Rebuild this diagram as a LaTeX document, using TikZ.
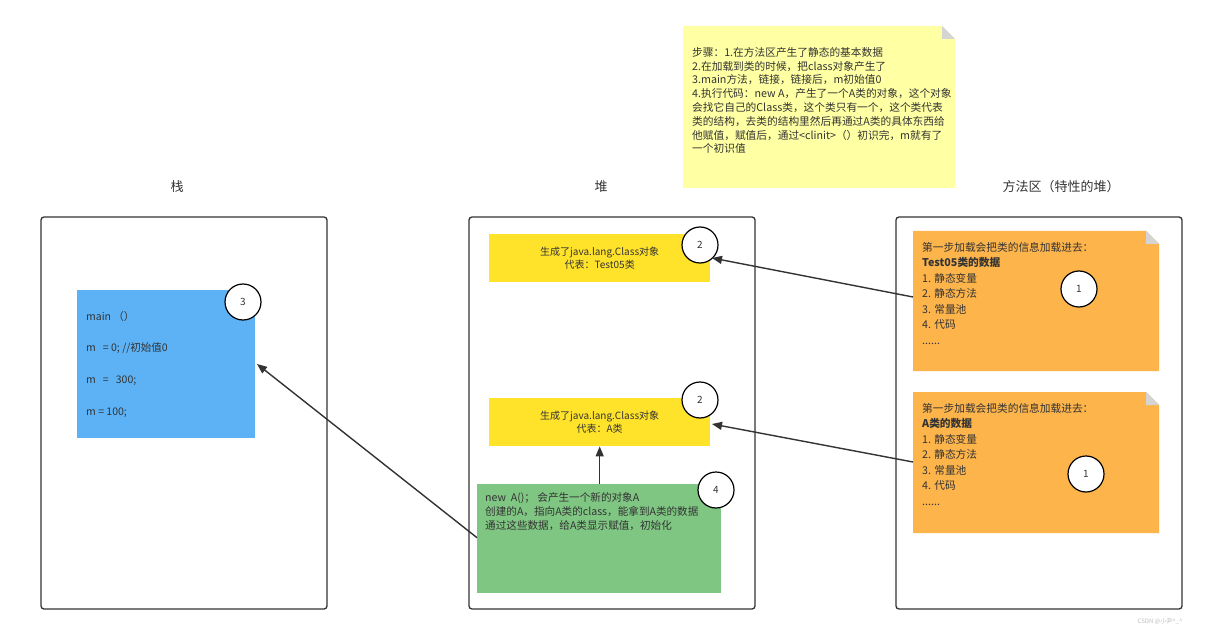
\documentclass[tikz,border=0pt]{standalone}
\usepackage{fontspec}
\setmainfont{Noto Sans CJK SC}
\usetikzlibrary{arrows.meta}
\definecolor{notey}{HTML}{FFFFA3}
\definecolor{noteo}{HTML}{FDB44B}
\definecolor{clsy}{HTML}{FFE32B}
\definecolor{grn}{HTML}{80C683}
\definecolor{blu}{HTML}{5CB2F5}
\definecolor{txt}{HTML}{333333}
\definecolor{foldc}{HTML}{D4D4D4}
\tikzset{
  x=1pt, y=-1pt,
  area/.style={draw=txt, line width=1.3pt, rounded corners=3pt},
  title/.style={font=\fontsize{13}{15}\selectfont, text=txt},
  num/.style={circle, draw=black, line width=1.2pt, fill=white, minimum size=36pt, inner sep=0pt, font=\fontsize{10}{12}\selectfont, text=txt},
  conn/.style={draw=txt, line width=1.4pt, -{Triangle[length=10pt,width=8pt]}},
  small/.style={font=\fontsize{10.7}{15.5}\selectfont, text=txt, align=left, inner sep=0pt, anchor=north west},
  cls/.style={fill=clsy, minimum width=221pt, minimum height=48pt, inner sep=0pt, font=\fontsize{10}{13}\selectfont, text=txt, align=center, anchor=north west},
}
\newcommand{\notebox}[6]{% x1,y1,x2,y2,fill,fold
  \fill[#5] (#1,#2) -- (#3-#6,#2) -- (#3,#2+#6) -- (#3,#4) -- (#1,#4) -- cycle;
  \fill[foldc] (#3-#6,#2) -- (#3,#2+#6) -- (#3-#6,#2+#6) -- cycle;
}
\begin{document}
\begin{tikzpicture}
\useasboundingbox[fill=white] (0,0) rectangle (1225,636);

% titles
\node[title] (t1) at (177,187) {栈};
\node[title] (t2) at (601,187) {堆};
\node[title] (t3) at (1061,187) {方法区（特性的堆）};

% areas
\draw[area] (41,217) rectangle (327,609);
\draw[area] (469,217) rectangle (755,609);
\draw[area] (896,217) rectangle (1182,609);

% yellow note
\notebox{683}{26}{955}{188}{notey}{13}
\node[small, font=\fontsize{10.7}{13.8}\selectfont] (steps) at (692,47) {步骤：1.在方法区产生了静态的基本数据\\2.在加载到类的时候，把class对象产生了\\3.main方法，链接，链接后，m初始值0\\4.执行代码：new A，产生了一个A类的对象，这个对象\\会找它自己的Class类，这个类只有一个，这个类代表\\类的结构，去类的结构里然后再通过A类的具体东西给\\他赋值，赋值后，通过<clinit>（）初识完，m就有了\\一个初识值};

% orange notes
\notebox{913}{231}{1159}{371}{noteo}{13}
\node[small] (o1t) at (922,242) {第一步加载会把类的信息加载进去：\\\textbf{Test05类的数据}\\1. 静态变量\\2. 静态方法\\3. 常量池\\4. 代码\\......};
\coordinate (o1) at (913,297);
\node[num] (c1a) at (1079,289) {1};

\notebox{913}{392}{1159}{533}{noteo}{13}
\node[small] (o2t) at (922,403) {第一步加载会把类的信息加载进去：\\\textbf{A类的数据}\\1. 静态变量\\2. 静态方法\\3. 常量池\\4. 代码\\......};
\coordinate (o2) at (913,462);
\node[num] (c1b) at (1086,474) {1};

% heap class objects
\node[cls] (y1) at (489,234) {生成了java.lang.Class对象\\代表：Test05类};
\node[num] (c2a) at (700,245) {2};
\node[cls] (y2) at (489,398) {生成了java.lang.Class对象\\代表：A类};
\node[num] (c2b) at (700,400) {2};

% green
\node[fill=grn, minimum width=244pt, minimum height=109pt, inner sep=0pt, anchor=north west] (g) at (477,484) {};
\node[small, font=\fontsize{10.6}{14.2}\selectfont] (gt) at (485,492) {new\ \ A()；\ 会产生一个新的对象A\\创建的A，指向A类的class，能拿到A类的数据\\通过这些数据，给A类显示赋值，初始化};
\node[num] (c4) at (716,490) {4};

% blue
\node[fill=blu, minimum width=178pt, minimum height=148pt, inner sep=0pt, anchor=north west] (b) at (77,290) {};
\node[small, font=\fontsize{10.5}{31.8}\selectfont] (bt) at (86,311) {main\ （）\\m\ \ \ = 0; //初始值0\\m\ \ \ =\ \ \ 300;\\m = 100;};
\node[num] (c3) at (243,302) {3};

% connectors
\draw[conn] (o1) -- (712,258);
\draw[conn] (o2) -- (712,424);
\draw[conn] (g.north -| y2.south) -- (y2.south);
\draw[conn] (g.west) ++(0,-1) -- (257,364);

% watermark
\node[font=\fontsize{6}{7}\selectfont, text=gray!50] (wm) at (1160,622) {CSDN @小尹\textasciicircum\_\textasciicircum};
\end{tikzpicture}
\end{document}
